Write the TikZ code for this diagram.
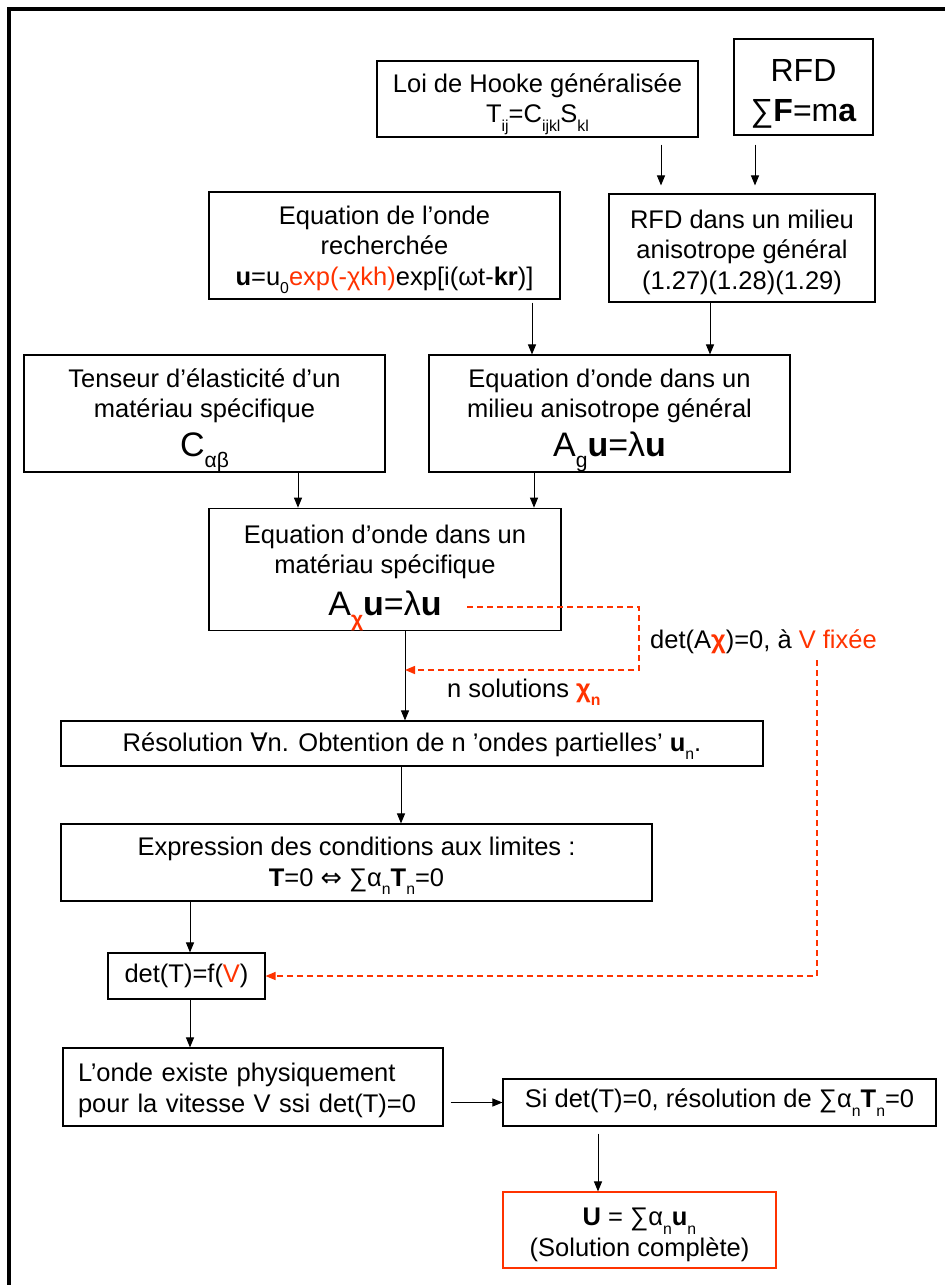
\documentclass[tikz,border=0pt]{standalone}
\usepackage{fontspec}
\setmainfont{Liberation Sans}
\newfontfamily\dv{DejaVu Sans}
\usetikzlibrary{arrows.meta}
\definecolor{rd}{RGB}{255,51,0}
\newcommand\sbs[1]{\raisebox{-0.33em}{\scalebox{0.62}{#1}}}
\newcommand\fsn{\fontsize{25.5}{30.5}\selectfont}
\newcommand\fsb{\fontsize{34}{40}\selectfont}
\newcommand\bu{\textbf{u}}
\newcommand\tp[1]{\rule{0pt}{#1}}
\begin{document}
\begin{tikzpicture}[x=1pt,y=-1pt,
 box/.style={draw, line width=1.1pt, inner sep=0pt, align=center, font=\fsn},
 arr/.style={line width=1pt, -{Triangle[length=10pt,width=8pt]}},
 dsh/.style={draw=rd, line width=1.5pt, dash pattern=on 6pt off 4pt, -{Triangle[length=10pt,width=8pt]}},
 lab/.style={inner sep=0pt, anchor=west, font=\fsn}]
\useasboundingbox (0,0) rectangle (945,1285);
\fill[white] (0,0) rectangle (945,1285);
\draw[line width=3.5pt] (9,1290) -- (9,9) -- (950,9);

\node[box, minimum width=321pt, minimum height=76pt] (hooke) at (537.5,99) {\tp{29pt}Loi de Hooke généralisée\\T\sbs{ij}=C\sbs{ijkl}S\sbs{kl}};
\node[box, minimum width=139pt, minimum height=96pt, font=\fontsize{32}{40}\selectfont] (rfd) at (803.5,87) {\tp{36pt}RFD\\∑\textbf{F}=m\textbf{a}};
\node[box, minimum width=266pt, minimum height=108pt] (rfd2) at (742,248) {\tp{27pt}RFD dans un milieu\\anisotrope général\\(1.27)(1.28)(1.29)};
\node[box, minimum width=351pt, minimum height=107pt] (onde) at (384.5,245.5) {\tp{27pt}Equation de l’onde\\recherchée\\\bu=u\sbs{0}\textcolor{rd}{exp(-χkh)}exp[i(ωt-\textbf{kr})]};
\node[box, minimum width=361pt, minimum height=117pt] (tens) at (204.5,413.5) {\tp{32pt}Tenseur d’élasticité d’un\\matériau spécifique\\[8pt]{\fsb C\sbs{αβ}}};
\node[box, minimum width=361pt, minimum height=117pt] (geng) at (609.5,413.5) {\tp{32pt}Equation d’onde dans un\\milieu anisotrope général\\[8pt]{\fsb A\sbs{g}\bu=λ\bu}};
\node[box, minimum width=352pt, minimum height=117pt] (spec) at (385,569.5) {\tp{35pt}Equation d’onde dans un\\matériau spécifique\\[11pt]{\fsb A\sbs{\textcolor{rd}{\textbf{χ}}}\bu=λ\bu}};
\node[box, minimum width=702pt, minimum height=45pt] (reso) at (412,743.5) {\tp{24pt}Résolution {\dv ∀}n. Obtention de n ’ondes partielles’ \bu\sbs{n}.};
\node[box, minimum width=591pt, minimum height=77pt] (expr) at (356.5,862.5) {\tp{25pt}Expression des conditions aux limites :\\\textbf{T}=0 {\dv ⇔} ∑α\sbs{n}\textbf{T}\sbs{n}=0};
\node[box, minimum width=157pt, minimum height=46pt] (det) at (186.5,976) {det(T)=f(\textcolor{rd}{V})};
\node[box, minimum width=380pt, minimum height=78pt, text width=350pt, align=left] (onde2) at (253,1087) {\tp{25pt}L’onde existe physiquement\\pour la vitesse V ssi det(T)=0};
\node[box, minimum width=433pt, minimum height=47pt] (si) at (719.5,1102.5) {Si det(T)=0, résolution de ∑α\sbs{n}\textbf{T}\sbs{n}=0};
\node[box, draw=rd, minimum width=273pt, minimum height=76pt] (fin) at (639.5,1230) {\tp{27pt}\textbf{U} = ∑α\sbs{n}\bu\sbs{n}\\(Solution complète)};

\node[lab] (l1) at (650,642) {det(A\textcolor{rd}{\textbf{χ}})=0, à \textcolor{rd}{V fixée}};
\node[lab] (l2) at (447,692) {n solutions \textcolor{rd}{\textbf{χ}\sbs{\textbf{n}}}};

\coordinate (xa) at (661,0);
\coordinate (xb) at (755,0);
\coordinate (xc) at (532,0);
\coordinate (xd) at (710,0);
\coordinate (xe) at (298,0);
\coordinate (xf) at (534,0);
\coordinate (xg) at (405,0);
\coordinate (xh) at (401,0);
\coordinate (xi) at (190,0);
\coordinate (xj) at (598,0);

\draw[arr, shorten <=7pt, shorten >=8pt] (hooke.south -| xa) -- (rfd2.north -| xa);
\draw[arr, shorten <=9pt, shorten >=8pt] (rfd.south -| xb) -- (rfd2.north -| xb);
\draw[arr, shorten <=3pt] (onde.south -| xc) -- (geng.north -| xc);
\draw[arr] (rfd2.south -| xd) -- (geng.north -| xd);
\draw[arr] (tens.south -| xe) -- (spec.north -| xe);
\draw[arr] (geng.south -| xf) -- (spec.north -| xf);
\draw[arr] (spec.south -| xg) -- (reso.north -| xg);
\draw[arr] (reso.south -| xh) -- (expr.north -| xh);
\draw[arr] (expr.south -| xi) -- (det.north -| xi);
\draw[arr] (det.south -| xi) -- (onde2.north -| xi);
\draw[arr, shorten <=7pt] (onde2.east |- si.west) -- (si.west);
\draw[arr, shorten <=7pt] (si.south -| xj) -- (fin.north -| xj);

\coordinate (d1) at (467,607);
\coordinate (j1) at (405,670);
\draw[dsh] (d1) -- (639,607) -- (639,670) -- (j1);
\coordinate (d3) at (817,660);
\draw[dsh] (d3) |- (det.east);
\end{tikzpicture}
\end{document}
